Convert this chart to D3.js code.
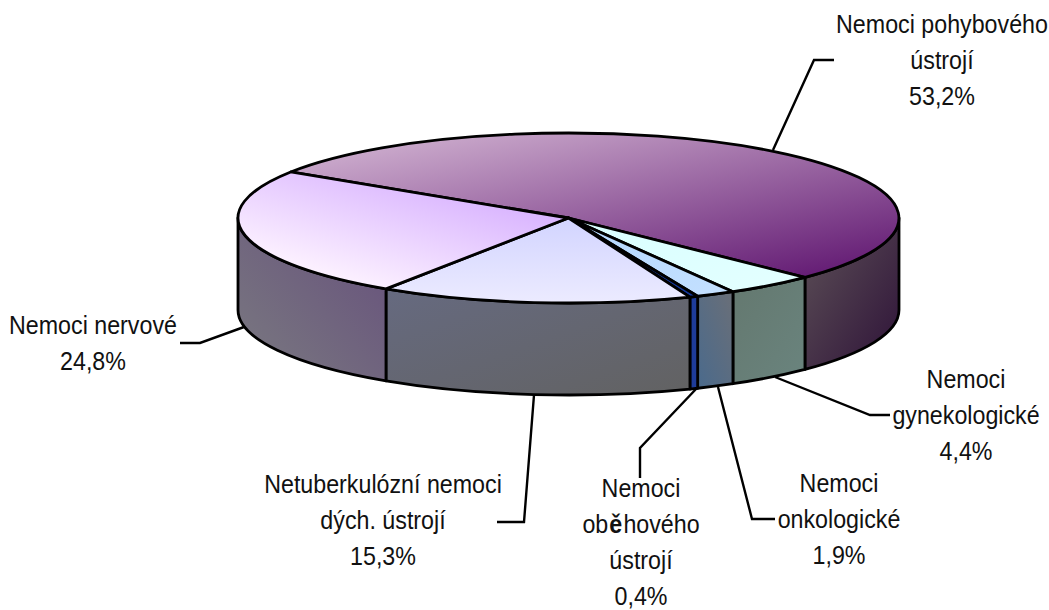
<!DOCTYPE html>
<html><head><meta charset="utf-8">
<script src="https://cdn.jsdelivr.net/npm/d3@7/dist/d3.min.js"></script>
<style>html,body{margin:0;padding:0;background:#fff}svg{display:block}text{font-family:"Liberation Sans",Arial,sans-serif;font-size:25px;fill:#111}</style>
</head><body><svg id="c" width="1049" height="610"></svg>
<script>
const categories=["Nemoci pohybového ústrojí","Nemoci gynekologické","Nemoci onkologické","Nemoci oběhového ústrojí","Netuberkulózní nemoci dých. ústrojí","Nemoci nervové"];
const values=[53.2,4.4,1.9,0.4,15.3,24.8];
const valueLabels=["53,2%","4,4%","1,9%","0,4%","15,3%","24,8%"];
const labelLines=[["Nemoci pohybového","ústrojí"],["Nemoci","gynekologické"],["Nemoci","onkologické"],["Nemoci","oběhového","ústrojí"],["Netuberkulózní nemoci","dých. ústrojí"],["Nemoci nervové"]];
const topColors=[["#d2b4d2","#5f1570"],["#d8ffff","#e4ffff"],["#b4d8ff","#c4e0ff"],["#14389c","#14389c"],["#d2d4ff","#ecebff"],["#d2a8ff","#fff6ff"]];
const sideColors=[["#5e5258","#2e1238"],["#64786f","#6a847e"],["#4a6a8c","#6a6f78"],["#1e3c9a","#1e3c9a"],["#666a80","#626262"],["#7a7a80","#664f7c"]];
const leaders=[[[773,150],[814,60],[834,60]],[[775,377],[870,415],[890,415]],[[718,387],[752,519],[775,519]],[[697,388],[640,448],[640,478]],[[534,395],[524,522],[497,522]],[[244,327],[200,343],[180,343]]];
const labelAnchors=[[942,33],[966,388],[839,492],[641,496.5],[383,493],[93,334]];

const svg=d3.select("#c"), defs=svg.append("defs");
const cx=568.5, cy=218, rx=330.5, ry=85, depth=92;
const x=d3.scaleLinear().domain([-1,1]).range([cx-rx,cx+rx]);
const y=d3.scaleLinear().domain([-1,1]).range([cy-ry,cy+ry]);
const start=302.8*Math.PI/180;
const pie=d3.pie().sort(null).startAngle(start).endAngle(start+2*Math.PI);
const arcs=pie(values);
const px=a=>x(Math.sin(a)), py=a=>y(-Math.cos(a));
const f=v=>v.toFixed(2);
function grad(id,c,x1,y1,x2,y2){const g=defs.append("linearGradient").attr("id",id).attr("x1",x1).attr("y1",y1).attr("x2",x2).attr("y2",y2);
 g.append("stop").attr("offset",0).attr("stop-color",c[0]);g.append("stop").attr("offset",1).attr("stop-color",c[1]);}
const topDirs=[[0.1,0,0.95,1],[0,0,1,1],[0,0,1,1],[0,0,0,1],[0.5,0,0.5,1],[1,0.2,0.3,1]];
const sideDirs=[[0,0,1,1],[0,0,1,1],[0,1,1,0],[0,0,0,1],[0,0,1,1],[0,1,1,0]];
categories.forEach((_,i)=>{grad("t"+i,topColors[i],...topDirs[i]);grad("s"+i,sideColors[i],...sideDirs[i]);});
const sw=2.8;
const front=[Math.PI/2,3*Math.PI/2];
function wall(a0,a1){const x0=px(a0),y0=py(a0),x1=px(a1),y1=py(a1);
 return `M${f(x0)},${f(y0)}A${rx},${ry} 0 0 1 ${f(x1)},${f(y1)}L${f(x1)},${f(y1+depth)}A${rx},${ry} 0 0 0 ${f(x0)},${f(y0+depth)}Z`;}
const g=svg.append("g");
leaders.forEach(l=>g.append("path").attr("d",d3.line()(l)).attr("fill","none").attr("stroke","#000").attr("stroke-width",2.4));
arcs.forEach((d,i)=>{
 for(const k of [0,2]){
  const a0=Math.max(d.startAngle,front[0]+k*Math.PI), a1=Math.min(d.endAngle,front[1]+k*Math.PI);
  if(a1>a0) g.append("path").attr("d",wall(a0,a1)).attr("fill",`url(#s${i})`).attr("stroke","#000").attr("stroke-width",sw).attr("stroke-linejoin","round");
 }
});
arcs.forEach((d,i)=>{
 const large=d.endAngle-d.startAngle>Math.PI?1:0;
 g.append("path").attr("d",`M${cx},${cy}L${f(px(d.startAngle))},${f(py(d.startAngle))}A${rx},${ry} 0 ${large} 1 ${f(px(d.endAngle))},${f(py(d.endAngle))}Z`)
  .attr("fill",`url(#t${i})`).attr("stroke","#000").attr("stroke-width",sw).attr("stroke-linejoin","round");
});
const lineH=36, squeeze=0.93, boldPad=1.2;
categories.forEach((_,i)=>{
 [...labelLines[i],valueLabels[i]].forEach((r,j)=>{
  const row=svg.append("g").attr("transform",`translate(${labelAnchors[i][0]},${labelAnchors[i][1]+j*lineH}) scale(${squeeze},1)`);
  const split=r.split(/(ě)/).filter(p=>p);
  const parts=split.map(p=>row.append("text").attr("font-weight",p==="ě"?"bold":null).text(p));
  const widths=parts.map((t,k)=>t.node().getComputedTextLength()+(split[k]==="ě"?2*boldPad:0));
  let pos=-d3.sum(widths)/2;
  parts.forEach((t,k)=>{t.attr("x",pos+(split[k]==="ě"?boldPad:0));pos+=widths[k];});
 });
});
</script></body></html>
